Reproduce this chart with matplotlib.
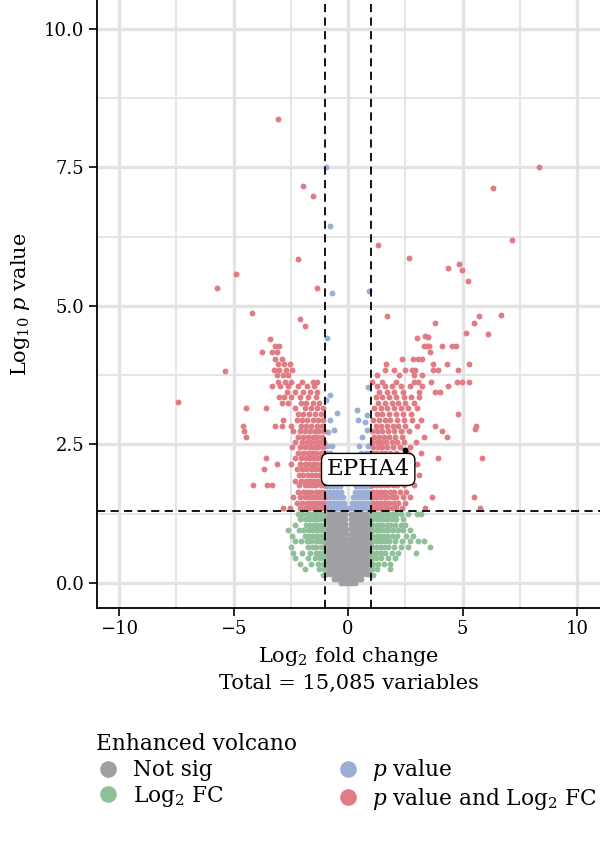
import matplotlib
matplotlib.use("Agg")
import matplotlib.pyplot as plt
from matplotlib.lines import Line2D

plt.rcParams['font.family'] = ['DejaVu Serif']
plt.rcParams['mathtext.fontset'] = 'dejavuserif'

# ---------------- data ----------------
categories = ["Not sig", "Log$_2$ FC", "$\\it{p}$ value", "$\\it{p}$ value and Log$_2$ FC"]
colors = ["#a0a0a4", "#8fc09a", "#9aaed6", "#e07c83"]

# Not significant (gray): rows of (y, [x...])
gray_rows = [
    (0.00, [-0.30, -0.15, 0.0, 0.15, 0.30]),
    (0.08, [-0.62, -0.47, -0.32, -0.17, -0.03, 0.12, 0.27, 0.42, 0.57]),
    (0.17, [-0.95, -0.8, -0.66, -0.52, -0.38, -0.24, -0.1, 0.05, 0.2, 0.34, 0.48, 0.62, 0.77, 0.92]),
    (0.26, [-0.93, -0.78, -0.63, -0.49, -0.35, -0.21, -0.07, 0.08, 0.22, 0.37, 0.51, 0.66, 0.8, 0.95]),
    (0.35, [-0.95, -0.8, -0.66, -0.52, -0.38, -0.24, -0.1, 0.05, 0.2, 0.34, 0.48, 0.62, 0.77, 0.92]),
    (0.44, [-0.93, -0.78, -0.63, -0.49, -0.35, -0.21, -0.08, 0.08, 0.22, 0.37, 0.51, 0.66, 0.8, 0.95]),
    (0.53, [-0.95, -0.8, -0.66, -0.52, -0.38, -0.24, -0.1, 0.1, 0.24, 0.38, 0.52, 0.66, 0.8, 0.95]),
    (0.62, [-0.93, -0.78, -0.63, -0.49, -0.35, -0.21, -0.09, 0.09, 0.21, 0.35, 0.49, 0.63, 0.78, 0.93]),
    (0.71, [-0.95, -0.8, -0.66, -0.52, -0.38, -0.24, -0.1, 0.1, 0.24, 0.38, 0.52, 0.66, 0.8, 0.95]),
    (0.80, [-0.93, -0.78, -0.63, -0.49, -0.35, -0.21, -0.1, 0.1, 0.21, 0.35, 0.49, 0.63, 0.78, 0.93]),
    (0.89, [-0.95, -0.8, -0.66, -0.52, -0.38, -0.24, -0.11, 0.11, 0.24, 0.38, 0.52, 0.66, 0.8, 0.95]),
    (0.98, [-0.93, -0.78, -0.63, -0.49, -0.35, -0.21, -0.11, 0.11, 0.21, 0.35, 0.49, 0.63, 0.78, 0.93]),
    (1.07, [-0.95, -0.8, -0.66, -0.52, -0.38, -0.24, -0.12, 0.12, 0.24, 0.38, 0.52, 0.66, 0.8, 0.95]),
    (1.16, [-0.93, -0.78, -0.63, -0.49, -0.35, -0.22, -0.12, 0.12, 0.22, 0.35, 0.49, 0.63, 0.78, 0.93]),
    (1.25, [-0.95, -0.8, -0.66, -0.52, -0.38, -0.25, -0.12, 0.12, 0.25, 0.38, 0.52, 0.66, 0.8, 0.95]),
]

# Log2 FC only (green)
green_rows = [
    (1.25, [-1.05, -1.2, -1.35, -1.5, -1.65, -1.8, -2.0, -2.2, 1.05, 1.2, 1.35, 1.5, 1.65, 1.8, 1.95, 2.1, 2.3, 2.6, 3.0, 3.2]),
    (1.15, [-1.1, -1.25, -1.4, -1.55, -1.72, -1.9, -2.1, 1.1, 1.25, 1.4, 1.55, 1.72, 1.9, 2.1, 2.4]),
    (1.05, [-1.05, -1.2, -1.35, -1.5, -1.68, -1.85, -2.3, 1.05, 1.2, 1.35, 1.5, 1.68, 1.85, 2.05, 2.3, 2.5]),
    (0.95, [-1.1, -1.25, -1.4, -1.58, -1.75, -1.95, -2.15, -2.6, 1.1, 1.25, 1.4, 1.58, 1.75, 1.95, 2.2, 2.4, 2.7]),
    (0.85, [-1.05, -1.2, -1.35, -1.52, -1.7, -1.9, -2.45, 1.05, 1.2, 1.35, 1.52, 1.7, 1.9, 2.15, 2.55, 2.85]),
    (0.75, [-1.1, -1.25, -1.42, -1.6, -1.8, -2.05, -2.3, 1.1, 1.25, 1.42, 1.6, 1.8, 2.05, 2.35, 2.7, 3.05, 3.3]),
    (0.65, [-1.05, -1.2, -1.38, -1.55, -1.75, -2.5, 1.05, 1.2, 1.38, 1.55, 1.75, 2.0, 2.3, 2.6, 3.58]),
    (0.55, [-1.1, -1.25, -1.42, -1.65, -2.0, -2.4, 1.1, 1.25, 1.42, 1.62, 1.9, 2.2, 2.97]),
    (0.45, [-1.05, -1.22, -1.45, -1.75, -2.3, 1.05, 1.22, 1.45, 1.75, 2.05]),
    (0.35, [-1.1, -1.3, -1.6, -2.1, 1.1, 1.3, 1.55, 1.83]),
    (0.25, [-1.05, -1.25, -1.9, 1.05, 1.25, 1.83]),
    (0.15, [-1.1, 1.1]),
]

# p value only (blue)
blue_rows = [
    (1.35, [-0.95, -0.8, -0.65, -0.5, -0.35, -0.2, -0.08, 0.08, 0.2, 0.35, 0.5, 0.65, 0.8, 0.95]),
    (1.45, [-0.92, -0.77, -0.62, -0.47, -0.32, -0.18, 0.18, 0.32, 0.47, 0.62, 0.77, 0.92]),
    (1.55, [-0.95, -0.8, -0.65, -0.5, -0.35, -0.2, 0.2, 0.35, 0.5, 0.65, 0.8, 0.95]),
    (1.65, [-0.92, -0.77, -0.62, -0.47, -0.3, 0.3, 0.47, 0.62, 0.77, 0.92]),
    (1.75, [-0.95, -0.8, -0.65, -0.5, -0.35, 0.35, 0.5, 0.65, 0.8, 0.95]),
    (1.85, [-0.92, -0.77, -0.62, -0.45, 0.45, 0.62, 0.77, 0.92]),
    (1.95, [-0.95, -0.8, -0.65, -0.5, 0.5, 0.65, 0.8, 0.95]),
    (2.05, [-0.92, -0.77, -0.6, 0.6, 0.77, 0.92]),
    (2.15, [-0.95, -0.8, -0.65, 0.65, 0.8, 0.95]),
    (2.25, [-0.92, -0.75, -0.6, 0.6, 0.75, 0.92]),
    (2.35, [-0.95, -0.8, 0.55, 0.8, 0.95]),
    (2.48, [-0.9, -0.7, 0.5, 0.85]),
]
blue_extra_x = [-0.79, -0.48, -0.79, -0.87, -0.6, 0.39, 0.44, 0.74, 0.61, 0.83, 0.87, 0.83, -0.95,
                -0.98, -0.79, -0.70, -0.92, 0.92]
blue_extra_y = [3.39, 3.07, 2.94, 2.73, 2.76, 3.12, 2.94, 2.91, 2.64, 2.76, 3.54, 3.03, 3.30,
                7.50, 6.44, 5.23, 4.42, 5.27]

# p value and Log2 FC (red)
red_rows = [
    (1.35, [-1.05, -1.2, -1.38, -1.55, -1.7, -1.9, -2.1, -2.55, -2.85, 1.05, 1.2, 1.38, 1.55, 1.72, 1.9, 2.1, 2.35, 3.36, 5.76]),
    (1.45, [-1.1, -1.28, -1.45, -1.62, -1.8, -2.0, -2.25, 1.1, 1.28, 1.45, 1.62, 1.8, 2.0, 2.2, 2.5]),
    (1.55, [-1.03, -1.2, -1.35, -1.52, -1.7, -1.88, -2.1, -2.4, 1.03, 1.2, 1.38, 1.55, 1.72, 1.9, 2.1, 2.4, 2.7, 3.67, 5.5]),
    (1.65, [-1.1, -1.25, -1.42, -1.6, -1.78, -1.95, -2.2, 1.1, 1.28, 1.45, 1.62, 1.82, 2.0, 2.25, 2.55]),
    (1.77, [-1.05, -1.2, -1.38, -1.55, -1.72, -1.9, -2.15, -3.32, -3.54, -4.15, 1.05, 1.22, 1.4, 1.58, 1.75, 1.95, 2.15, 2.45, 2.9]),
    (1.85, [-1.12, -1.3, -1.48, -1.65, -1.85, -2.05, -2.3, 1.12, 1.3, 1.48, 1.65, 1.85, 2.05, 2.3, 2.6]),
    (1.95, [-1.03, -1.22, -1.4, -1.58, -1.75, -1.95, -2.15, 1.03, 1.2, 1.4, 1.58, 1.78, 1.98, 2.2, 2.5, 3.1]),
    (2.06, [-1.1, -1.28, -1.45, -1.62, -1.82, -2.0, -2.25, -3.67, 1.1, 1.28, 1.45, 1.65, 1.85, 2.05, 2.35, 2.7]),
    (2.15, [-1.05, -1.2, -1.38, -1.55, -1.72, -1.9, -2.1, -2.5, -3.1, 1.05, 1.22, 1.42, 1.6, 1.8, 2.0, 2.25, 2.55, 3.0]),
    (2.26, [-1.12, -1.3, -1.48, -1.68, -1.85, -2.05, -2.3, -3.58, 1.12, 1.3, 1.5, 1.7, 1.9, 2.15, 2.8, 3.93, 5.85]),
    (2.35, [-1.03, -1.2, -1.4, -1.58, -1.75, -1.95, -2.2, 1.03, 1.22, 1.42, 1.62, 1.85, 2.1, 2.6, 3.2]),
    (2.45, [-1.1, -1.3, -1.5, -1.68, -1.88, -2.1, -2.45, 1.1, 1.3, 1.5, 1.72, 1.95, 2.25, 2.7]),
    (2.55, [-1.05, -1.22, -1.42, -1.6, -1.8, -2.0, -2.3, 1.05, 1.25, 1.45, 1.65, 1.9, 2.15, 2.45, 2.95]),
    (2.64, [-1.15, -1.35, -1.55, -1.75, -1.95, -2.2, -4.45, 1.15, 1.35, 1.55, 1.8, 2.05, 2.35, 3.3, 4.32]),
    (2.74, [-1.05, -1.25, -1.45, -1.65, -1.9, -2.1, -2.4, -4.55, 1.05, 1.28, 1.5, 1.75, 2.0, 2.3, 2.65, 4.1]),
    (2.83, [-1.15, -1.35, -1.6, -1.85, -2.05, -2.5, -2.9, -3.2, -4.58, 1.2, 1.45, 1.7, 1.95, 2.2, 2.5, 3.0, 3.8, 5.59]),
    (2.95, [-1.1, -1.3, -1.55, -1.8, -2.0, -2.25, -2.84, 1.1, 1.35, 1.6, 1.85, 2.15, 2.45, 2.8, 3.2]),
    (3.05, [-1.2, -1.45, -1.7, -1.95, -2.2, 1.25, 1.5, 1.8, 2.1, 2.4, 2.75, 4.8]),
    (3.15, [-1.1, -1.35, -1.6, -1.9, -2.3, -3.58, -4.45, 1.15, 1.45, 1.7, 2.0, 2.3, 2.6, 3.0]),
    (3.25, [-1.25, -1.55, -1.85, -2.05, -2.6, -2.9, 1.3, 1.6, 1.9, 2.2, 2.5, 2.9]),
    (3.35, [-1.4, -1.75, -2.1, -2.5, -2.8, -3.0, 1.2, 1.5, 1.8, 2.1, 2.45, 2.75, 3.1]),
    (3.45, [-1.35, -1.66, -1.95, -2.3, -2.65, 1.35, 1.7, 2.0, 2.4, 3.1, 3.8, 4.02]),
    (3.55, [-1.5, -1.8, -2.2, -2.6, -2.95, -3.3, 1.25, 1.6, 1.92, 2.3, 2.7, 3.25, 4.37]),
    (3.63, [-1.35, -1.53, -2.0, -2.5, -2.75, -3.05, 1.05, 1.5, 2.1, 2.9, 3.06, 3.62, 4.76, 4.98, 5.28]),
    (3.75, [-2.6, -2.85, -3.1, 1.27, 2.23, 2.88, 3.23]),
    (3.85, [-2.45, -2.7, -3.0, -3.25, 1.6, 2.0, 2.5, 2.79, 2.93, 3.71, 3.93, 4.8]),
    (3.95, [-2.55, -2.8, -3.05, 1.66, 3.71, 4.32, 5.28]),
    (4.05, [-2.9, -3.2, 2.36, 2.84, 3.06, 3.23]),
    (4.17, [-3.1, -3.3, -3.76, 3.58]),
    (4.27, [-3.19, -3.0, 3.45, 3.32, 3.54, 4.1, 4.54, 4.72]),
]
red_extra_x = [-3.06, -1.97, -1.53, -2.18, -4.89, -5.72, -1.35, -4.19, -2.10, -1.88, -3.41, -5.37, -7.42,
               8.34, 6.33, 7.16, 1.31, 2.66, 4.85, 4.37, 4.98, 5.24, 1.70, 3.80, 5.72, 5.50, 6.68, 3.01,
               3.36, 3.49, 5.15, 6.11, 5.55]
red_extra_y = [8.38, 7.17, 6.99, 5.85, 5.58, 5.32, 5.32, 4.87, 4.77, 4.64, 4.40, 3.83, 3.27,
               7.51, 7.13, 6.19, 6.10, 5.87, 5.76, 5.69, 5.65, 5.45, 4.82, 4.69, 4.82, 4.69, 4.84, 4.42,
               4.46, 4.44, 4.51, 4.49, 2.78]

label_gene = "EPHA4"
label_point = (2.49, 2.40)
label_text_pos = (0.88, 2.05)

fc_cut = 1.0
p_cut = 1.301  # -log10(0.05)
x_ticks = [-10, -5, 0, 5, 10]
y_ticks = [0.0, 2.5, 5.0, 7.5, 10.0]


def expand(rows):
    xs, ys = [], []
    for y, row in rows:
        for x in row:
            xs.append(x)
            ys.append(y)
    return xs, ys


# ---------------- figure ----------------
fig = plt.figure(figsize=(6.0, 8.41), dpi=100)
ax = fig.add_axes([97 / 600, (841 - 608) / 841, 503 / 600, 608 / 841])

grid_c = "#e3e3e3"
ax.set_axisbelow(True)
for v in [-10, -5, 0, 5, 10]:
    ax.axvline(v, color=grid_c, lw=2.4, zorder=0)
for v in [-7.5, -2.5, 2.5, 7.5]:
    ax.axvline(v, color=grid_c, lw=1.3, zorder=0)
for v in [0, 2.5, 5, 7.5, 10]:
    ax.axhline(v, color=grid_c, lw=2.4, zorder=0)
for v in [1.25, 3.75, 6.25, 8.75]:
    ax.axhline(v, color=grid_c, lw=1.3, zorder=0)

ms = 18
gx, gy = expand(gray_rows)
ax.scatter(gx, gy, s=ms, color=colors[0], lw=0, zorder=2)
nx, ny = expand(green_rows)
ax.scatter(nx, ny, s=ms, color=colors[1], lw=0, zorder=2)
bx, by = expand(blue_rows)
ax.scatter(bx + blue_extra_x, by + blue_extra_y, s=ms, color=colors[2], lw=0, zorder=2)
rx, ry = expand(red_rows)
ax.scatter(rx + red_extra_x, ry + red_extra_y, s=ms, color=colors[3], lw=0, zorder=2)
ax.scatter([label_point[0]], [label_point[1]], s=ms, color="black", lw=0, zorder=3)

dash = (0, (4.5, 3))
ax.axvline(-fc_cut, color="black", lw=1.3, ls=dash, zorder=4)
ax.axvline(fc_cut, color="black", lw=1.3, ls=dash, zorder=4)
ax.axhline(p_cut, color="black", lw=1.3, ls=dash, zorder=4)

ax.text(label_text_pos[0], label_text_pos[1], label_gene, ha="center", va="center", fontsize=16.5,
        zorder=5, bbox=dict(boxstyle="round,pad=0.22,rounding_size=0.3", fc="white", ec="black", lw=1.0))

ax.set_xlim(-10.96, 11.0)
ax.set_ylim(-0.45, 10.52)
ax.set_xticks(x_ticks)
ax.set_xticklabels(["\u221210", "\u22125", "0", "5", "10"])
ax.set_yticks(y_ticks)
ax.set_yticklabels([f"{v:.1f}" for v in y_ticks])
ax.tick_params(labelsize=13, length=6, width=1.2, color="black", pad=3)
for s in ["top", "right"]:
    ax.spines[s].set_visible(False)
for s in ["left", "bottom"]:
    ax.spines[s].set_linewidth(1.3)

ax.set_xlabel("Log$_2$ fold change\nTotal = 15,085 variables", fontsize=15, labelpad=5, linespacing=1.35)
ax.set_ylabel("Log$_{10}$ $\\it{p}$ value", fontsize=15, labelpad=9)

handles = [Line2D([], [], ls="none", marker="o", markersize=12, color=c, markeredgewidth=0) for c in colors]
leg = fig.legend(handles, categories, ncol=2,
                 loc="upper left", bbox_to_anchor=(85 / 600, 1 - 722 / 841), frameon=False,
                 fontsize=15.6, title="Enhanced volcano", title_fontsize=15.6, alignment="left",
                 handletextpad=0.55, columnspacing=5.15, labelspacing=0.12, borderpad=0.0,
                 handlelength=1.15)

fig.savefig("out.png", dpi=100)
